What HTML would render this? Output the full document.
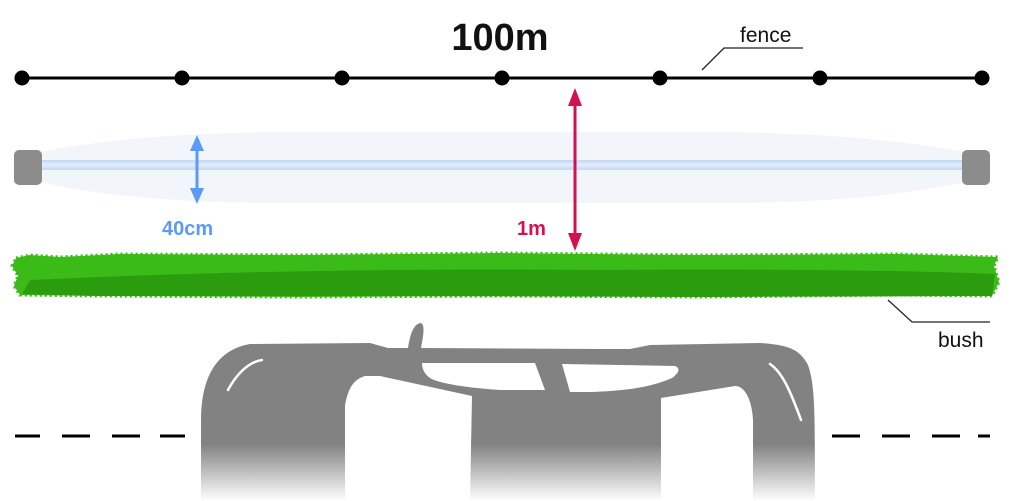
<!DOCTYPE html>
<html><head><meta charset="utf-8"><style>
html,body{margin:0;padding:0;background:#fff;width:1024px;height:501px;overflow:hidden}
text{font-family:"Liberation Sans",sans-serif}
</style></head><body>
<svg width="1024" height="501" viewBox="0 0 1024 501" xmlns="http://www.w3.org/2000/svg">
<defs>
<linearGradient id="fade" x1="0" y1="0" x2="0" y2="1">
<stop offset="0" stop-color="#828282"/><stop offset="0.68" stop-color="#828282"/><stop offset="1" stop-color="#828282" stop-opacity="0"/>
</linearGradient>
<linearGradient id="beam" x1="0" y1="0" x2="0" y2="1">
<stop offset="0" stop-color="#c2d7f5"/><stop offset="0.5" stop-color="#e4eefc"/><stop offset="1" stop-color="#c2d7f5"/>
</linearGradient>
</defs>
<text x="500" y="50" font-size="38" font-weight="bold" text-anchor="middle" fill="#111">100m</text>
<line x1="22" y1="78" x2="983" y2="78" stroke="#000" stroke-width="3"/>
<g fill="#000">
<circle cx="22" cy="78" r="7.5"/><circle cx="182" cy="78" r="7.5"/><circle cx="342" cy="78" r="7.5"/><circle cx="502" cy="78" r="7.5"/><circle cx="660" cy="78" r="7.5"/><circle cx="820" cy="78" r="7.5"/><circle cx="982" cy="78" r="7.5"/>
</g>
<polyline points="702,70 724,48 803,48" fill="none" stroke="#222" stroke-width="1.3"/>
<text x="740" y="42" font-size="21" fill="#111">fence</text>
<path d="M40,152 C100,140 180,133 280,132 L720,132 C820,133 900,140 965,152 L965,182 C900,196 820,203 720,203 L280,203 C180,203 100,196 40,182 Z" fill="#f2f6fb"/>
<rect x="40" y="160" width="925" height="10" fill="url(#beam)"/>
<rect x="14" y="150" width="28" height="35" rx="5" fill="#8c8c8c"/>
<rect x="962" y="150" width="28" height="35" rx="5" fill="#8c8c8c"/>
<line x1="197" y1="146" x2="197" y2="194" stroke="#5b9bf5" stroke-width="3"/>
<polygon points="197,135 190,151 204,151" fill="#5b9bf5"/>
<polygon points="197,204 190,188 204,188" fill="#5b9bf5"/>
<text x="162" y="235" font-size="20" font-weight="bold" fill="#5b9bf5">40cm</text>
<line x1="575" y1="100" x2="575" y2="240" stroke="#d6104f" stroke-width="3"/>
<polygon points="575,88 568,106 582,106" fill="#d6104f"/>
<polygon points="575,251 568,233 582,233" fill="#d6104f"/>
<text x="517" y="235" font-size="20" font-weight="bold" fill="#d6104f">1m</text>
<path d="M16,258 L30,255 L60,257 L120,254 L300,255 L500,253 L700,255 L900,254 L998,257 L994,266 L999,282 L992,296 L900,295 L700,297 L500,296 L300,297 L100,296 L20,295 L14,286 L18,276 L12,266 Z" fill="#3bbb17" stroke="#3bbb17" stroke-width="3" stroke-dasharray="2 3"/>
<path d="M30,280 C200,272 400,268 600,270 C800,268 950,272 995,274 L992,296 L700,297 L400,296 L100,296 L22,294 Z" fill="#2b9c0e"/>
<polyline points="888,300 912,322 990,322" fill="none" stroke="#222" stroke-width="1.3"/>
<text x="938" y="347" font-size="21" fill="#111">bush</text>
<g stroke="#000" stroke-width="3">
<line x1="15" y1="436" x2="40" y2="436"/><line x1="62" y1="436" x2="90" y2="436"/><line x1="112" y1="436" x2="140" y2="436"/><line x1="160" y1="436" x2="185" y2="436"/>
<line x1="832" y1="436" x2="860" y2="436"/><line x1="882" y1="436" x2="910" y2="436"/><line x1="932" y1="436" x2="960" y2="436"/><line x1="978" y1="436" x2="990" y2="436"/>
</g>
<path fill="url(#fade)" fill-rule="evenodd" d="
M201,501 L201,420 C201,380 215,350 250,344 L370,343 L388,348 L408,348 C410,335 413,325 420,323 C425,323 424,333 421,348 L600,349 L630,349 L650,345 L760,343 C790,345 800,350 808,365 C815,385 815,410 815,501 Z
M345,501 L345,405 C348,390 352,380 365,376 L380,376 L472,396 L470,501 Z
M661,501 L661,398 L735,386 C745,386 752,400 753,420 L753,501 Z"/>
<path d="M422,363 L535,363 L545,390 L500,390 C470,388 440,384 430,378 C424,374 422,368 422,363 Z" fill="#fff"/>
<path d="M562,364 L675,366 C680,368 680,372 672,378 C650,388 620,391 590,392 L570,392 Z" fill="#fff"/>
<path d="M228,390 C236,375 248,362 262,360" stroke="#fff" stroke-width="2.5" fill="none" stroke-linecap="round"/>
<path d="M770,364 C782,372 790,390 801,420" stroke="#fff" stroke-width="2.5" fill="none" stroke-linecap="round"/>
</svg>
</body></html>
